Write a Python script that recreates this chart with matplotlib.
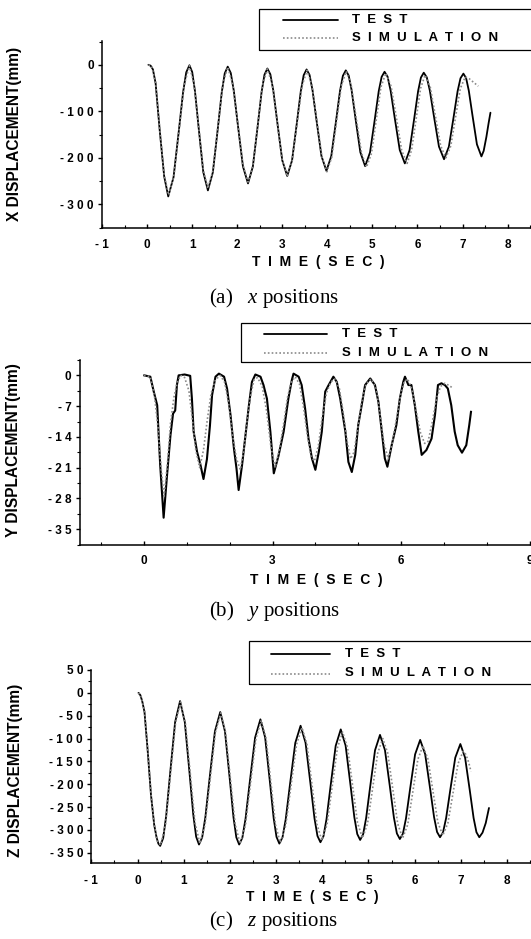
import matplotlib
matplotlib.use('Agg')
import matplotlib.pyplot as plt
from matplotlib.patches import Rectangle
from matplotlib.lines import Line2D
from matplotlib.ticker import AutoMinorLocator

W, H = 531, 939

# ---- data (time in s, displacement in mm) ----
xt_test = [0.03, 0.08, 0.13, 0.19, 0.28, 0.38, 0.47,
           0.5875, 0.705, 0.799, 0.8695, 0.94, 1.0015, 1.063, 1.145, 1.2475, 1.35,
           1.46, 1.57, 1.658, 1.724, 1.79, 1.8575, 1.925, 2.015, 2.1275, 2.24,
           2.3475, 2.455, 2.541, 2.6055, 2.67, 2.736, 2.802, 2.89, 3.0, 3.11,
           3.2175, 3.325, 3.411, 3.4755, 3.54, 3.606, 3.672, 3.76, 3.87, 3.98,
           4.0875, 4.195, 4.281, 4.3455, 4.41, 4.4745, 4.539, 4.625, 4.7325, 4.84,
           4.9475, 5.055, 5.141, 5.2055, 5.27, 5.3375, 5.405, 5.495, 5.6075, 5.72,
           5.825, 5.93, 6.014, 6.077, 6.14, 6.2075, 6.275, 6.365, 6.4775, 6.59,
           6.6975, 6.805, 6.891, 6.9555, 7.02, 7.08, 7.14, 7.22, 7.32, 7.42,
           7.47, 7.53, 7.58, 7.62]
x_test = [0, -2, -10, -40, -140, -240, -283,
          -241.8, -142, -59.1, -16.2, -1, -15.5, -56.4, -135.5, -230.7, -270,
          -231.2, -137, -58.8, -18.4, -4, -17.6, -55.7, -129.5, -218.4, -255,
          -218.9, -131.5, -58.9, -21.3, -8, -20.5, -55.6, -123.5, -205.3, -239,
          -205.6, -124.5, -57.2, -22.4, -10, -21.8, -54.9, -119, -196.2, -228,
          -196.5, -120, -56.5, -23.7, -12, -23.1, -54.4, -115, -187.9, -218,
          -188.4, -116.5, -56.8, -26, -15, -25.6, -55.6, -113.5, -183.2, -212,
          -183.5, -114.5, -57.2, -27.5, -17, -27, -55.3, -110, -175.8, -203,
          -176.1, -111, -56.9, -28.9, -19, -28.6, -55.7, -108, -171, -197,
          -185, -155, -125, -103]

xt_sim = [0.03, 0.10, 0.19, 0.28, 0.38, 0.48,
          0.595, 0.71, 0.825, 0.94, 1.04, 1.145, 1.25, 1.35,
          1.46, 1.57, 1.68, 1.79, 1.90, 2.015, 2.13, 2.24,
          2.35, 2.455, 2.56, 2.67, 2.78, 2.89, 3.00, 3.11,
          3.22, 3.33, 3.44, 3.55, 3.66, 3.77, 3.88, 3.99,
          4.10, 4.205, 4.31, 4.42, 4.53, 4.645, 4.76, 4.87,
          4.98, 5.085, 5.19, 5.30, 5.415, 5.535, 5.65, 5.77,
          5.87, 5.97, 6.07, 6.17, 6.285, 6.40, 6.515, 6.63,
          6.74, 6.845, 6.95, 7.06, 7.15, 7.25, 7.35]
x_sim = [0, -3, -38, -138, -238, -280,
         -239, -141, -43, -2, -41, -134, -227, -266,
         -228, -135.5, -43, -5, -41, -128.5, -216, -252,
         -216.5, -130.5, -44.5, -9, -43, -124.5, -206, -240,
         -207, -126, -45, -12, -44, -121, -198, -230,
         -198.5, -122, -45.5, -14, -44, -117, -190, -220,
         -190.5, -119, -47.5, -18, -46, -115, -184, -212,
         -183.5, -117, -50.5, -22, -48, -111, -174, -200,
         -174.5, -113, -51.5, -26, -30, -38, -46]

yt_test = [0.01, 0.15, 0.23, 0.31, 0.38, 0.46, 0.54, 0.62, 0.68, 0.73,
           0.77, 0.81, 0.95, 1.08, 1.12, 1.16, 1.24, 1.32, 1.39, 1.47,
           1.54, 1.59, 1.67, 1.75, 1.87, 1.94, 2.02, 2.10, 2.16, 2.21,
           2.29, 2.37, 2.45, 2.52, 2.60, 2.72, 2.79, 2.87, 2.95, 3.03,
           3.14, 3.26, 3.37, 3.45, 3.49, 3.61, 3.68, 3.76, 3.84, 3.92,
           4.00, 4.08, 4.15, 4.23, 4.31, 4.42, 4.50, 4.58, 4.70, 4.77,
           4.85, 4.93, 5.00, 5.08, 5.16, 5.28, 5.39, 5.47, 5.55, 5.62,
           5.68, 5.78, 5.89, 5.97, 6.05, 6.09, 6.17, 6.24, 6.32, 6.40,
           6.48, 6.59, 6.71, 6.79, 6.86, 6.94, 7.02, 7.09, 7.17, 7.25,
           7.32, 7.42, 7.52, 7.59, 7.63]
y_test = [0, -0.3, -3.7, -6.8, -20.4, -32.4, -22.7, -13.6, -8.7, -8,
          -2.2, 0, 0.2, -0.1, -5.3, -12.8, -17.4, -20.4, -23.6, -19.1,
          -11.5, -4.5, -0.3, 0.4, -0.3, -3, -9, -16.6, -21.2, -26.1,
          -20.4, -13.6, -6.8, -1.5, 0.2, -0.3, -2.2, -5.3, -12.8, -22.3,
          -18.3, -12.8, -5.3, -1.1, 0.4, -0.3, -2.2, -7.5, -14.4, -18.9,
          -21.5, -17.4, -12.8, -3.7, -2.2, -0.3, -1.5, -5.3, -12.8, -19.7,
          -22, -18.1, -11.3, -6.8, -2.2, -0.7, -2.2, -6, -12.8, -18.9,
          -20.8, -15.9, -11.3, -5.3, -1.5, -0.3, -2.2, -2.2, -6.8, -12.8,
          -18.1, -17, -14.4, -9, -2.2, -1.8, -2.2, -3, -6.8, -12.8,
          -15.9, -17.6, -15.9, -11.3, -8.3]

yt_sim = [0.0, 0.15, 0.25, 0.33, 0.40, 0.47, 0.55, 0.62, 0.70, 0.78,
          0.86, 0.95, 1.05, 1.13, 1.21, 1.30, 1.39, 1.48, 1.57, 1.67,
          1.78, 1.88, 1.97, 2.06, 2.16, 2.25, 2.33, 2.41, 2.49, 2.57,
          2.65, 2.76, 2.86, 2.96, 3.06, 3.16, 3.26, 3.35, 3.44, 3.53,
          3.63, 3.72, 3.81, 3.90, 3.98, 4.07, 4.16, 4.26, 4.36, 4.46,
          4.56, 4.65, 4.74, 4.82, 4.90, 4.99, 5.08, 5.18, 5.30, 5.42,
          5.51, 5.60, 5.70, 5.79, 5.89, 5.98, 6.07, 6.15, 6.25, 6.35,
          6.45, 6.55, 6.63, 6.72, 6.82, 6.92, 7.02, 7.12, 7.22]
y_sim = [0, -0.3, -5, -12, -21, -27.5, -20, -11, -5, -1.5,
         0, -0.5, -3.5, -10, -17, -21, -17, -10, -4, -1,
         0, -1.5, -6, -13, -19, -21.5, -17, -10, -4.5, -1,
         -0.5, -2.5, -8, -16, -21, -17, -11, -5, -1.5, -0.3,
         -2, -7, -13.5, -18.5, -19.5, -16, -9.5, -4, -1.5, -0.8,
         -3, -8.5, -15, -19, -17.5, -12, -6, -2, -0.8, -3,
         -9, -15.5, -19, -15.5, -10, -5, -1.5, -0.8, -3, -8,
         -13, -15.5, -15, -11, -5.5, -2.5, -1.8, -2.3, -3]

zt_test = [0.02, 0.06, 0.10, 0.15, 0.22, 0.29, 0.36, 0.41, 0.45, 0.49,
           0.5545, 0.619, 0.705, 0.8125, 0.92, 1.0225, 1.125, 1.207, 1.2685, 1.33,
           1.399, 1.468, 1.56, 1.675, 1.79, 1.8925, 1.995, 2.077, 2.1385, 2.20,
           2.269, 2.338, 2.43, 2.545, 2.66, 2.7625, 2.865, 2.947, 3.0085, 3.07,
           3.139, 3.208, 3.30, 3.415, 3.53, 3.6375, 3.745, 3.831, 3.8955, 3.96,
           4.026, 4.092, 4.18, 4.29, 4.40, 4.505, 4.61, 4.694, 4.757, 4.82,
           4.8845, 4.949, 5.035, 5.1425, 5.25, 5.3575, 5.465, 5.551, 5.6155, 5.68,
           5.746, 5.812, 5.90, 6.01, 6.12, 6.2275, 6.335, 6.421, 6.4855, 6.55,
           6.616, 6.682, 6.77, 6.88, 6.99, 7.0925, 7.195, 7.277, 7.3385, 7.40,
           7.47, 7.54, 7.61]
z_test = [0, -5, -18, -42, -128, -223, -289, -316, -330, -335,
          -317.9, -269.7, -176.5, -64.3, -18, -63.8, -175, -267.3, -315, -332,
          -316.3, -272.3, -187, -84.3, -42, -84.3, -187, -272.3, -316.3, -332,
          -317.2, -275.6, -195, -98, -58, -97.7, -194, -274, -315.3, -330,
          -316.1, -276.9, -201, -109.7, -72, -109.2, -199.5, -274.5, -313.2, -327,
          -313.7, -276.1, -203.5, -116.1, -80, -115.3, -201, -272.1, -308.9, -322,
          -309.6, -274.6, -207, -125.6, -92, -125.3, -206, -273, -307.7, -320,
          -308.3, -275.3, -211.5, -134.7, -103, -134.1, -209.5, -272.1, -304.5, -316,
          -305, -274, -214, -141.8, -112, -141.8, -214, -274, -305, -316,
          -306, -285, -252]

zt_sim = [0.02, 0.08, 0.15, 0.22, 0.29, 0.36, 0.43, 0.50,
          0.6075, 0.715, 0.8225, 0.93, 1.035, 1.14, 1.245, 1.35,
          1.4625, 1.575, 1.6875, 1.80, 1.905, 2.01, 2.115, 2.22,
          2.335, 2.45, 2.565, 2.68, 2.7825, 2.885, 2.9875, 3.09,
          3.2075, 3.325, 3.4425, 3.56, 3.6675, 3.775, 3.8825, 3.99,
          4.1025, 4.215, 4.3275, 4.44, 4.5475, 4.655, 4.7625, 4.87,
          4.98, 5.09, 5.20, 5.31, 5.4175, 5.525, 5.6325, 5.74,
          5.85, 5.96, 6.07, 6.18, 6.2875, 6.395, 6.5025, 6.61,
          6.72, 6.83, 6.94, 7.05, 7.11, 7.17, 7.22]
z_sim = [0, -9, -40, -125, -220, -287, -325, -333,
         -287.3, -176.5, -65.7, -20, -65.3, -175, -284.7, -330,
         -288.2, -187, -85.8, -44, -85.8, -187, -288.2, -330,
         -290.6, -195, -99.4, -60, -99.1, -194, -288.9, -328,
         -291.2, -202, -112.8, -76, -112, -199.5, -287, -323,
         -288.4, -204.5, -120.6, -86, -119.9, -202, -284.1, -318,
         -286.2, -209, -131.8, -100, -131.8, -209, -286.2, -318,
         -288.5, -217, -145.5, -116, -144.6, -214, -283.4, -312,
         -285.1, -220, -154.9, -128, -135, -152, -172]

x_ticks = [-1, 0, 1, 2, 3, 4, 5, 6, 7, 8]
x_yticks = [0, -100, -200, -300]
y_xticks = [0, 3, 6, 9]
y_yticks = [0, -7, -14, -21, -28, -35]
z_yticks = [50, 0, -50, -100, -150, -200, -250, -300, -350]

plt.rcParams['font.family'] = ['Liberation Sans', 'DejaVu Sans']
plt.rcParams['mathtext.fontset'] = 'custom'
plt.rcParams['mathtext.rm'] = 'Liberation Serif'
plt.rcParams['mathtext.it'] = 'Liberation Serif:italic'

fig = plt.figure(figsize=(W / 100, H / 100), dpi=100)

TEST_KW = dict(color='black', lw=1.3, solid_capstyle='round', solid_joinstyle='round')
SIM_KW = dict(color='#8a8a8a', lw=1.2, linestyle=(0, (1, 1.3)))


def spaced(v):
    return ' '.join(str(v))


def px_axes(l, t, r, b):
    return fig.add_axes([l / W, 1 - b / H, (r - l) / W, (b - t) / H])


def setup(ax, xlim, ylim, xticks, yticks, xpad):
    ax.set_xlim(*xlim)
    ax.set_ylim(*ylim)
    for s in ('top', 'right'):
        ax.spines[s].set_visible(False)
    for s in ('left', 'bottom'):
        ax.spines[s].set_linewidth(1.1)
    ax.set_xticks(xticks)
    ax.set_xticklabels([spaced(v) for v in xticks])
    ax.set_yticks(yticks)
    ax.set_yticklabels([spaced(v) for v in yticks])
    ax.xaxis.set_minor_locator(AutoMinorLocator(2))
    ax.yaxis.set_minor_locator(AutoMinorLocator(2))
    ax.tick_params(axis='x', which='major', direction='in', length=3, width=1, pad=xpad)
    ax.tick_params(axis='x', which='minor', direction='in', length=2, width=0.8)
    ax.tick_params(axis='y', which='major', direction='out', length=3, width=1, pad=3)
    ax.tick_params(axis='y', which='minor', direction='out', length=2, width=0.8)
    for lab in ax.get_xticklabels() + ax.get_yticklabels():
        lab.set_fontweight('bold')
        lab.set_fontsize(8.5)
    ax.patch.set_alpha(0)


def legend_box(l, t, b, hx0, hx1, ty1, ty2, tx):
    fig.add_artist(Rectangle((l / W, 1 - b / H), (560 - l) / W, (b - t) / H,
                             transform=fig.transFigure, fill=False, lw=0.9, ec='black'))
    fig.add_artist(Line2D([hx0 / W, hx1 / W], [1 - ty1 / H] * 2,
                          transform=fig.transFigure, **TEST_KW))
    fig.add_artist(Line2D([hx0 / W, hx1 / W], [1 - ty2 / H] * 2,
                          transform=fig.transFigure, **SIM_KW))
    fig.text(tx / W, 1 - ty1 / H, 'T  E  S  T', va='center', ha='left',
             fontsize=9.5, fontweight='bold')
    fig.text(tx / W, 1 - ty2 / H, 'S  I  M  U  L  A  T  I  O  N', va='center', ha='left',
             fontsize=9.5, fontweight='bold')


def labels(ylab, yx, yy, xx, xy, cap, cx, cy):
    fig.text(yx / W, 1 - yy / H, ylab, rotation=90, ha='center', va='center',
             fontsize=11.2, fontweight='bold')
    fig.text(xx / W, 1 - xy / H, 'T  I  M  E  (  S  E  C  )', ha='center', va='center',
             fontsize=10, fontweight='bold')
    fig.text(cx / W, 1 - cy / H, cap, ha='center', va='center',
             fontsize=15, family='Liberation Serif')


# (a) x positions
ax1 = px_axes(102, 40.6, 531, 227.6)
setup(ax1, (-1, 8.52), (-350, 52), x_ticks, x_yticks, 8.5)
ax1.plot(xt_test, x_test, **TEST_KW)
ax1.plot(xt_sim, x_sim, **SIM_KW)
legend_box(259, 8.5, 49.8, 283, 338, 20.3, 38.3, 352)
labels('X DISPLACEMENT(mm)', 15, 134, 318, 262, '(a)   $x$ positions', 274, 298)

# (b) y positions
ax2 = px_axes(79.6, 360, 531, 544.5)
setup(ax2, (-1.5, 9.03), (-38.5, 3.5), y_xticks, y_yticks, 7.5)
ax2.xaxis.set_minor_locator(AutoMinorLocator(3))
ax2.plot(yt_test, y_test, color='black', lw=1.5, solid_joinstyle='round')
ax2.plot(yt_sim, y_sim, **SIM_KW)
legend_box(241, 323.4, 362.3, 264, 327, 334.2, 352.8, 342)
labels('Y DISPLACEMENT(mm)', 13.5, 450, 316.6, 580, '(b)   $y$ positions', 275, 611)

# (c) z positions
ax3 = px_axes(91.4, 670, 531, 862.8)
setup(ax3, (-1, 8.52), (-372, 50), x_ticks, z_yticks, 8.5)
ax3.plot(zt_test, z_test, **TEST_KW)
ax3.plot(zt_sim, z_sim, **SIM_KW)
legend_box(249, 641.3, 683.7, 271, 330, 653.9, 673.5, 345.4)
labels('Z DISPLACEMENT(mm)', 15.2, 770, 312, 897, '(c)   $z$ positions', 273, 921)

fig.savefig('out.png', dpi=100)
